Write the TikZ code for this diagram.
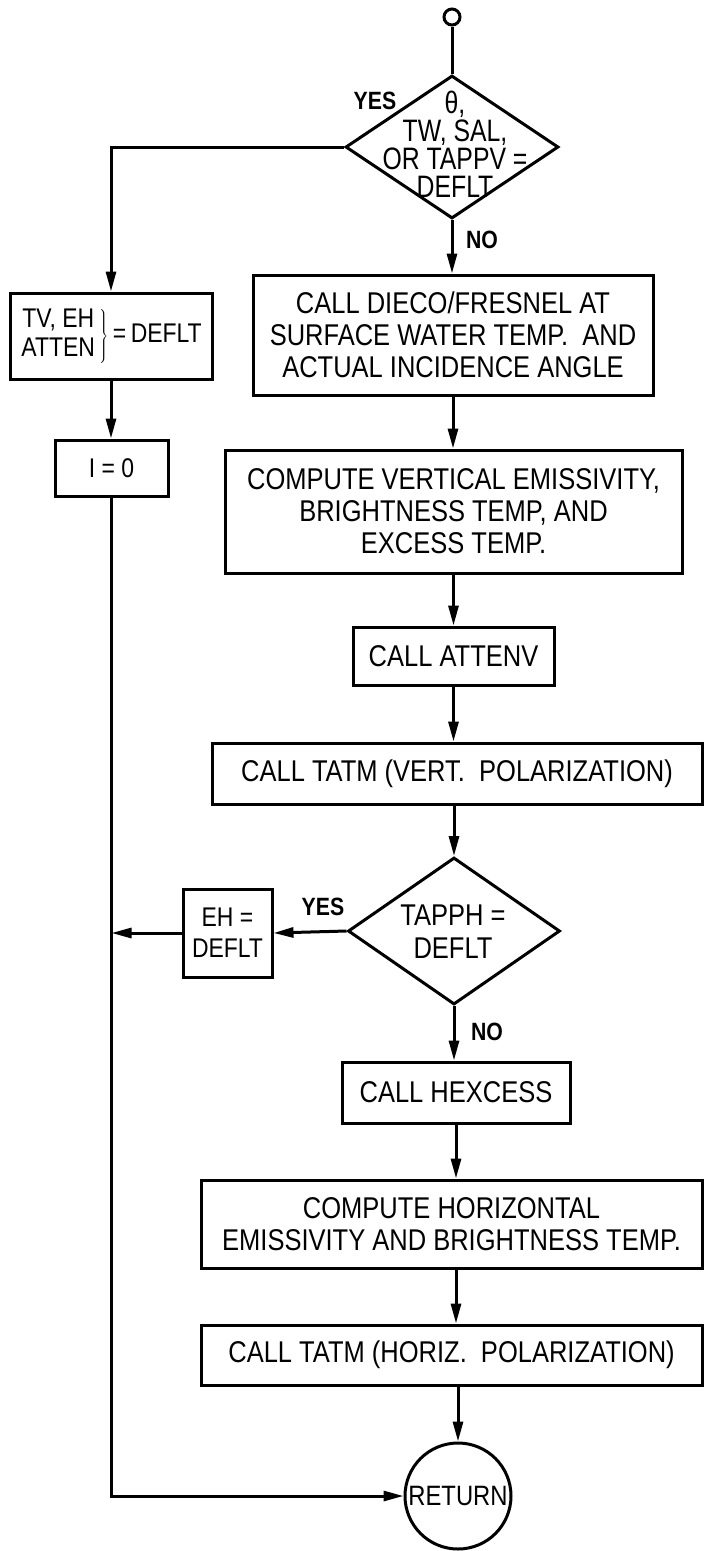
\documentclass[tikz,border=0pt]{standalone}
\usepackage{fontspec}
\setmainfont{Liberation Sans}[FakeStretch=0.85]
\newfontfamily\condfont{Liberation Sans}[FakeStretch=0.8]
\usetikzlibrary{shapes.geometric,arrows.meta}
\begin{document}
\begin{tikzpicture}[x=1pt,y=-1pt, line width=3pt,
  box/.style={draw, rectangle, inner sep=0pt, align=center, font=\fontsize{30}{32}\selectfont},
  dia/.style={draw, diamond, inner sep=0pt},
  dtext/.style={align=center, inner sep=0pt},
  lbl/.style={font=\fontsize{25}{27}\selectfont\bfseries, inner sep=0pt},
  arr/.style={-{Triangle[length=20pt,width=10pt]}},
  ]
\fill[white] (0,0) rectangle (704,1551);
\useasboundingbox (0,0) rectangle (704,1551);

% nodes
\node[draw, circle, minimum size=16pt, inner sep=0pt] (start) at (452,17) {};
\node[dia, minimum width=213pt, minimum height=143pt] (d1) at (452,147) {};
\node[dtext, font=\condfont\fontsize{31}{28}\selectfont] (d1t) at (455,144) {θ,\\TW, SAL,\\OR TAPPV =\\DEFLT};

\node[box, minimum width=202pt, minimum height=86pt, font=\fontsize{27}{29}\selectfont] (l1) at (111,336)
  {$\left.\begin{tabular}{@{}c@{\,}}TV, EH\\ATTEN\end{tabular}\right\}$\,=\,DEFLT};
\node[box, minimum width=113pt, minimum height=56pt, font=\fontsize{27}{29}\selectfont] (i0) at (111.5,468) {I = 0};

\node[box, minimum width=400pt, minimum height=120pt] (b1) at (453,335)
  {CALL DIECO/FRESNEL AT\\SURFACE WATER TEMP.\ \ AND\\ACTUAL INCIDENCE ANGLE};
\node[box, minimum width=457pt, minimum height=123pt] (b2) at (453.5,511.5)
  {COMPUTE VERTICAL EMISSIVITY,\\BRIGHTNESS TEMP, AND\\EXCESS TEMP.};
\node[box, minimum width=201pt, minimum height=58pt] (b3) at (453.5,656) {CALL ATTENV};
\node[box, minimum width=490pt, minimum height=61pt] (b4) at (457,773.5)
  {CALL TATM (VERT.\ \ POLARIZATION)};
\node[dia, minimum width=212pt, minimum height=147pt] (d2) at (454,931) {};
\node[dtext, font=\fontsize{30}{33}\selectfont] (d2t) at (453,932) {TAPPH =\\DEFLT};
\node[box, minimum width=89pt, minimum height=88pt, font=\fontsize{27}{31}\selectfont] (eh) at (227.5,933) {EH =\\DEFLT};
\node[box, minimum width=228pt, minimum height=61pt] (b5) at (456,1092.5) {CALL HEXCESS};
\node[box, minimum width=501pt, minimum height=88pt] (b6) at (451.5,1224)
  {COMPUTE HORIZONTAL\\EMISSIVITY AND BRIGHTNESS TEMP.};
\node[box, minimum width=501pt, minimum height=60pt] (b7) at (451.5,1355)
  {CALL TATM (HORIZ.\ \ POLARIZATION)};
\node[draw, circle, minimum size=106pt, inner sep=0pt, font=\fontsize{28}{30}\selectfont] (ret) at (458,1496) {RETURN};

% labels
\node[lbl] (yes1) at (375,101) {YES};
\node[lbl] (no1) at (482,240) {NO};
\node[lbl] (yes2) at (323,907) {YES};
\node[lbl] (no2) at (487,1032) {NO};

% connectors
\draw (start) -- (d1.north);
\draw[arr] (d1.west) -| (l1.north);
\draw[arr] (d1.south) -- (d1.south |- b1.north);
\draw[arr] (l1.south) -- (l1.south |- i0.north);
\draw[arr] (b1.south) -- (b1.south |- b2.north);
\draw[arr] (b3.north |- b2.south) -- (b3.north);
\draw[arr] (b3.south) -- (b3.south |- b4.north);
\draw[arr] (d2.north |- b4.south) -- (d2.north);
\draw[arr] (d2.west) -- (eh.east);
\coordinate (j) at (i0.south |- eh.west);
\draw[arr] (eh.west) -- (j);
\draw[arr] (d2.south) -- (d2.south |- b5.north);
\draw[arr] (b5.south) -- (b5.south |- b6.north);
\draw[arr] (b5.south |- b6.south) -- (b5.south |- b7.north);
\draw[arr] (ret.north |- b7.south) -- (ret.north);
\draw[arr] (i0.south) |- (ret.west);
\end{tikzpicture}
\end{document}
